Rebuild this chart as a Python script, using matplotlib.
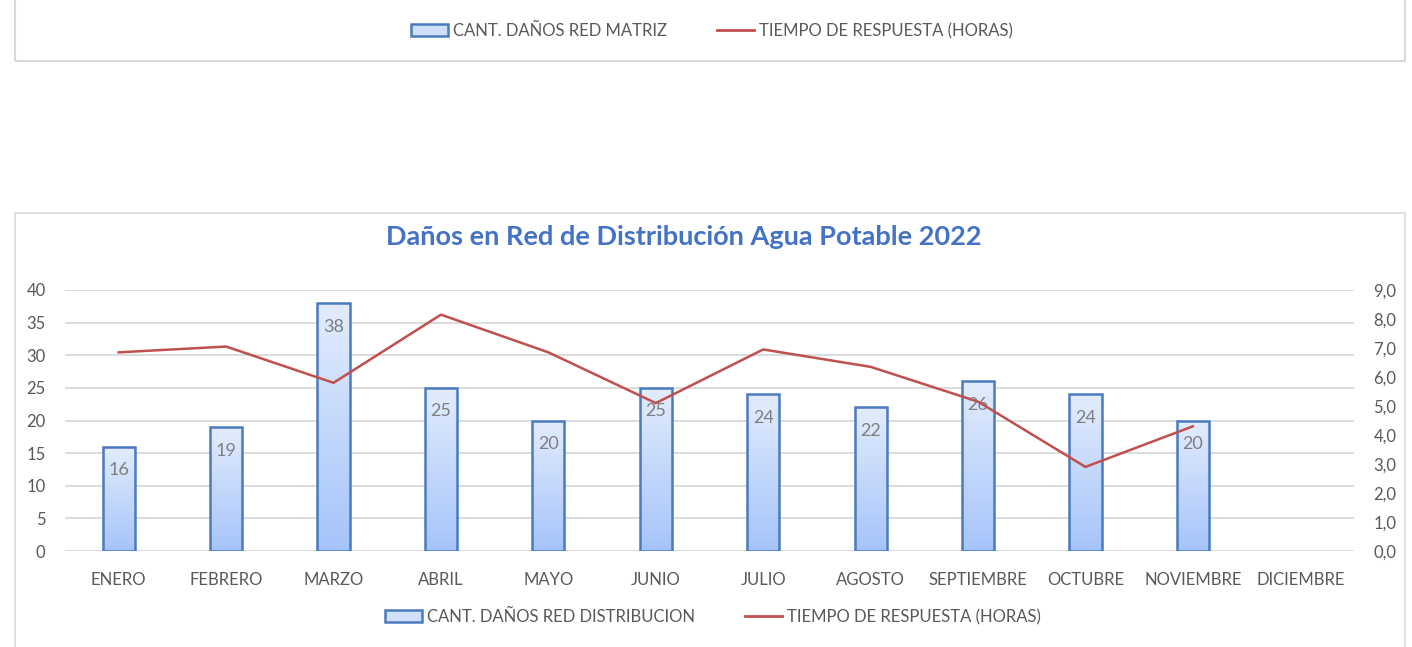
import numpy as np
import matplotlib
matplotlib.use("Agg")
import matplotlib.pyplot as plt
from matplotlib.patches import Rectangle
from matplotlib.lines import Line2D
from matplotlib.ticker import FuncFormatter

plt.rcParams['font.family'] = ['Lato', 'DejaVu Sans']

# data
meses = ['ENERO', 'FEBRERO', 'MARZO', 'ABRIL', 'MAYO', 'JUNIO', 'JULIO',
         'AGOSTO', 'SEPTIEMBRE', 'OCTUBRE', 'NOVIEMBRE', 'DICIEMBRE']
danos = [16, 19, 38, 25, 20, 25, 24, 22, 26, 24, 20, np.nan]
tiempo = [6.85, 7.05, 5.8, 8.15, 6.85, 5.1, 6.95, 6.35, 5.15, 2.9, 4.3, np.nan]

gris = '#595959'
azul_borde = '#4a7bbf'
rojo = '#c0504d'

fig = plt.figure(figsize=(14.12, 6.47), dpi=100)

# chart frames
fig.patches.append(Rectangle((15/1412, (647-61)/647), 1390/1412, 0.2,
                             transform=fig.transFigure, fill=False,
                             edgecolor='#d9d9d9', linewidth=1.5))
fig.patches.append(Rectangle((15/1412, -0.1), 1390/1412, (647-213)/647 + 0.1,
                             transform=fig.transFigure, fill=False,
                             edgecolor='#d9d9d9', linewidth=1.2))

ax = fig.add_axes([65/1412, 96/647, 1289/1412, 261/647])
ax2 = ax.twinx()

x = np.arange(len(meses))
w = 0.3
grad = np.linspace(0, 1, 100).reshape(-1, 1)
cmap = matplotlib.colors.LinearSegmentedColormap.from_list('g', ['#a6c4fa', '#e2ecfd'])
for xi, v in zip(x, danos):
    if np.isnan(v):
        continue
    ax.imshow(grad, extent=[xi - w/2, xi + w/2, 0, v], origin='lower',
              cmap=cmap, aspect='auto', zorder=2)
    ax.add_patch(Rectangle((xi - w/2, 0), w, v, fill=False,
                           edgecolor=azul_borde, linewidth=1.8, zorder=3))
    ax.annotate(f'{int(v)}', (xi, v), xytext=(0, -17), textcoords='offset points',
                ha='center', va='center', fontsize=13, color='#7f7f7f', zorder=4)

ax2.plot(x, tiempo, color=rojo, linewidth=1.8)

ax.set_xlim(-0.5, len(meses) - 0.5)
ax.set_ylim(0, 40)
ax.set_yticks(range(0, 41, 5))
ax2.set_ylim(0, 9)
ax2.set_yticks(range(0, 10))
ax2.yaxis.set_major_formatter(FuncFormatter(lambda v, p: f'{v:.1f}'.replace('.', ',')))
ax.set_xticks(x)
ax.set_xticklabels(meses)

ax.grid(axis='y', color='#d9d9d9', linewidth=1.3)
ax.set_axisbelow(True)
for a in (ax, ax2):
    for s in a.spines.values():
        s.set_visible(False)
ax.tick_params(axis='both', length=0, labelsize=12, labelcolor=gris)
ax.tick_params(axis='y', pad=14)
ax.tick_params(axis='x', pad=15)
ax2.tick_params(axis='y', length=0, labelsize=12, labelcolor=gris, pad=14)

fig.text(684/1412, (647-237)/647, 'Daños en Red de Distribución Agua Potable 2022',
         ha='center', va='center', fontsize=19.5, fontweight='bold', color='#4472c4')

def handles(label_bar):
    bar = Rectangle((0, 0), 1, 1, facecolor='#d0e0fb', edgecolor=azul_borde, linewidth=1.8)
    line = Line2D([], [], color=rojo, linewidth=2)
    return [bar, line], [label_bar, 'TIEMPO DE RESPUESTA (HORAS)']

h, l = handles('CANT. DAÑOS RED DISTRIBUCION')
fig.legend(h, l, loc='center', bbox_to_anchor=(713/1412, 30/647), ncol=2,
           frameon=False, fontsize=12, labelcolor=gris, handlelength=2.2,
           handletextpad=0.3, columnspacing=3.0)

h, l = handles('CANT. DAÑOS RED MATRIZ')
fig.legend(h, l, loc='center', bbox_to_anchor=(712/1412, (647-31)/647), ncol=2,
           frameon=False, fontsize=12, labelcolor=gris, handlelength=2.2,
           handletextpad=0.3, columnspacing=3.0)

fig.savefig('out.png', dpi=100)
